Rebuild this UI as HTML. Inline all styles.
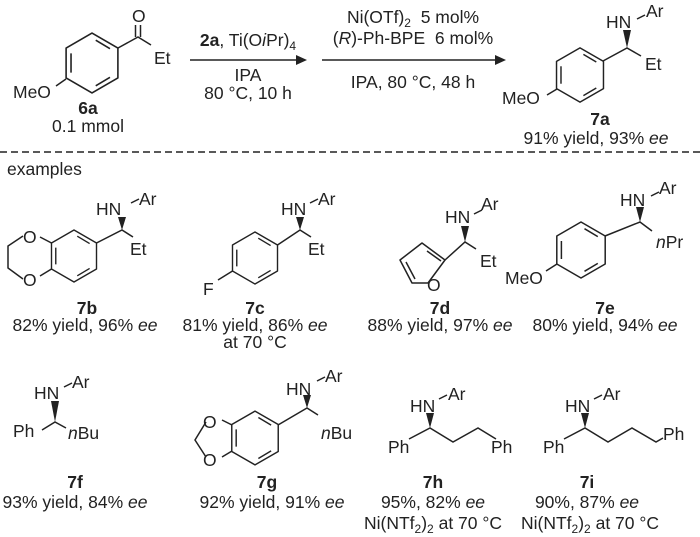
<!DOCTYPE html>
<html><head><meta charset="utf-8"><style>
html,body{margin:0;padding:0;background:#fff;}
svg{display:block;}
text{font-family:"Liberation Sans",Arial,sans-serif;font-size:17.5px;fill:#222;}
.b{font-weight:bold;}
.m{text-anchor:middle;}
.s{font-size:12px;}
</style></head><body>
<svg width="700" height="537" viewBox="0 0 700 537" xmlns="http://www.w3.org/2000/svg">
<defs>
<g id="bz" fill="none" stroke="#222" stroke-width="1.5" stroke-linejoin="round">
<polygon points="0,-28 24.2,-14 24.2,14 0,28 -24.2,14 -24.2,-14"/>
<line x1="-19.6" y1="-9" x2="-19.6" y2="9"/>
<line x1="3.5" y1="-21.3" x2="16.8" y2="-13.4"/>
<line x1="16.8" y1="13.4" x2="3.5" y2="21.3"/>
</g>
</defs>
<g stroke="#222" stroke-width="1.5" fill="none">
<!-- 6a -->
<use href="#bz" transform="translate(92,63) scale(1.07)"/>
<polyline points="118,48 138,37 151,45"/>
<line x1="135.5" y1="37" x2="135.5" y2="25"/><line x1="140.5" y1="37" x2="140.5" y2="25"/>
<line x1="66" y1="79" x2="56" y2="86"/>
<!-- arrows -->
<line x1="190" y1="60" x2="296" y2="60"/>
<line x1="322" y1="60" x2="495" y2="60"/>
<!-- 7a -->
<use href="#bz" transform="translate(580,75) scale(0.97)"/>
<polyline points="603,61 627,48 641,56"/>
<line x1="557" y1="89" x2="547" y2="95"/>
<line x1="637" y1="19" x2="645" y2="15"/>
<!-- dashed -->
<line x1="0" y1="152" x2="700" y2="152" stroke-dasharray="7,4"/>
<!-- 7b -->
<use href="#bz" transform="translate(74,256) scale(0.93)"/>
<polyline points="96.5,243 122,230 133,237"/>
<line x1="51.5" y1="243" x2="40" y2="237"/>
<line x1="51.5" y1="269" x2="40" y2="276"/>
<polyline points="23,236 8,246 8,268 23,279"/>
<line x1="131" y1="203" x2="139" y2="199"/>
<!-- 7c -->
<use href="#bz" transform="translate(255,258) scale(0.93)"/>
<polyline points="277.5,245 300,230 311,237"/>
<line x1="232.5" y1="271" x2="218" y2="280"/>
<line x1="310" y1="203" x2="318" y2="199"/>
<!-- 7d -->
<polygon points="445,260 422,243 400,260 412,283 428,283" stroke-linejoin="round"/>
<line x1="427" y1="251" x2="441" y2="261"/>
<line x1="406" y1="262" x2="415" y2="279"/>
<polyline points="445,260 465,242 476,249"/>
<line x1="474" y1="214" x2="482" y2="210"/>
<!-- 7e -->
<use href="#bz" transform="translate(581,250)"/>
<polyline points="605,236 640,222 652,231"/>
<line x1="557" y1="264" x2="546" y2="271"/>
<line x1="651" y1="196" x2="659" y2="192"/>
<!-- 7f -->
<polyline points="42,430 55,422 66,428"/>
<line x1="64" y1="387" x2="72" y2="383"/>
<!-- 7g -->
<use href="#bz" transform="translate(255,438) scale(0.96)"/>
<polyline points="278,425 307,408 318,415"/>
<line x1="232" y1="425" x2="222" y2="420"/>
<line x1="232" y1="451" x2="222" y2="457"/>
<polyline points="206,422 195,440 206,457"/>
<line x1="317" y1="381" x2="325" y2="377"/>
<!-- 7h -->
<polyline points="409,439 430,428 453,442 478,428 496,439"/>
<line x1="439" y1="399" x2="447" y2="395"/>
<!-- 7i -->
<polyline points="564,439 585,428 608,442 632,428 656,442 663,438"/>
<line x1="594" y1="399" x2="602" y2="395"/>
</g>
<g fill="#222">
<polygon points="296,55 307,60 296,65"/>
<polygon points="495,55 506,60 495,65"/>
<polygon points="627,48 623,30 631,30"/>
<polygon points="122,230 118,217 126,217"/>
<polygon points="300,230 296,217 304,217"/>
<polygon points="465,242 461,226 469,226"/>
<polygon points="640,222 636,207 644,207"/>
<polygon points="55,422 51,401 59,401"/>
<polygon points="307,408 303,395 311,395"/>
<polygon points="430,428 426,413 434,413"/>
<polygon points="585,428 581,413 589,413"/>
</g>
<!-- texts -->
<text x="132" y="22">O</text>
<text x="154" y="64">Et</text>
<text x="13" y="98">MeO</text>
<text x="88" y="114" class="b m">6a</text>
<text x="88" y="132" class="m">0.1 mmol</text>
<text x="248" y="46" class="m"><tspan class="b">2a</tspan>, Ti(O<tspan font-style="italic">i</tspan>Pr)<tspan class="s" dy="4">4</tspan></text>
<text x="248" y="81" class="m">IPA</text>
<text x="248" y="99" class="m">80 °C, 10 h</text>
<text x="413" y="23" class="m" xml:space="preserve">Ni(OTf)<tspan class="s" dy="4">2</tspan><tspan dy="-4">  5 mol%</tspan></text>
<text x="413" y="44" class="m" xml:space="preserve">(<tspan font-style="italic">R</tspan>)-Ph-BPE  6 mol%</text>
<text x="413" y="88" class="m">IPA, 80 °C, 48 h</text>
<text x="606" y="28">HN</text><text x="646" y="17">Ar</text>
<text x="645" y="70">Et</text>
<text x="502" y="104">MeO</text>
<text x="600" y="125" class="b m">7a</text>
<text x="596" y="144" class="m">91% yield, 93% <tspan font-style="italic">ee</tspan></text>
<text x="7" y="175">examples</text>
<!-- 7b -->
<text x="96" y="215">HN</text><text x="139" y="205">Ar</text>
<text x="130" y="255">Et</text>
<text x="23" y="243">O</text><text x="23" y="286">O</text>
<text x="87" y="314" class="b m">7b</text>
<text x="85" y="331" class="m">82% yield, 96% <tspan font-style="italic">ee</tspan></text>
<!-- 7c -->
<text x="281" y="215">HN</text><text x="318" y="205">Ar</text>
<text x="308" y="255">Et</text>
<text x="203" y="295">F</text>
<text x="255" y="314" class="b m">7c</text>
<text x="255" y="331" class="m">81% yield, 86% <tspan font-style="italic">ee</tspan></text>
<text x="255" y="348" class="m">at 70 °C</text>
<!-- 7d -->
<text x="445" y="223">HN</text><text x="481" y="210">Ar</text>
<text x="480" y="267">Et</text>
<text x="427" y="291">O</text>
<text x="440" y="314" class="b m">7d</text>
<text x="440" y="331" class="m">88% yield, 97% <tspan font-style="italic">ee</tspan></text>
<!-- 7e -->
<text x="620" y="206">HN</text><text x="659" y="194">Ar</text>
<text x="656" y="248"><tspan font-style="italic">n</tspan>Pr</text>
<text x="505" y="284">MeO</text>
<text x="605" y="314" class="b m">7e</text>
<text x="605" y="331" class="m">80% yield, 94% <tspan font-style="italic">ee</tspan></text>
<!-- 7f -->
<text x="34" y="399">HN</text><text x="72" y="388">Ar</text>
<text x="13" y="437">Ph</text>
<text x="68" y="439"><tspan font-style="italic">n</tspan>Bu</text>
<text x="75" y="488" class="b m">7f</text>
<text x="75" y="508" class="m">93% yield, 84% <tspan font-style="italic">ee</tspan></text>
<!-- 7g -->
<text x="286" y="395">HN</text><text x="325" y="382">Ar</text>
<text x="321" y="439"><tspan font-style="italic">n</tspan>Bu</text>
<text x="203" y="428">O</text><text x="203" y="466">O</text>
<text x="267" y="488" class="b m">7g</text>
<text x="272" y="508" class="m">92% yield, 91% <tspan font-style="italic">ee</tspan></text>
<!-- 7h -->
<text x="410" y="412">HN</text><text x="448" y="400">Ar</text>
<text x="388" y="453">Ph</text>
<text x="491" y="453">Ph</text>
<text x="433" y="488" class="b m">7h</text>
<text x="433" y="508" class="m">95%, 82% <tspan font-style="italic">ee</tspan></text>
<text x="433" y="529" class="m">Ni(NTf<tspan class="s" dy="4">2</tspan><tspan dy="-4">)</tspan><tspan class="s" dy="4">2</tspan><tspan dy="-4"> at 70 °C</tspan></text>
<!-- 7i -->
<text x="565" y="412">HN</text><text x="603" y="400">Ar</text>
<text x="543" y="453">Ph</text>
<text x="663" y="440">Ph</text>
<text x="587" y="488" class="b m">7i</text>
<text x="587" y="508" class="m">90%, 87% <tspan font-style="italic">ee</tspan></text>
<text x="590" y="529" class="m">Ni(NTf<tspan class="s" dy="4">2</tspan><tspan dy="-4">)</tspan><tspan class="s" dy="4">2</tspan><tspan dy="-4"> at 70 °C</tspan></text>
</svg>
</body></html>
